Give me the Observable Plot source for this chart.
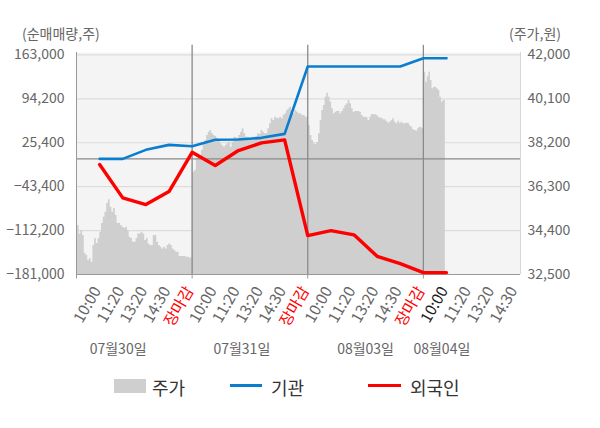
<!DOCTYPE html>
<html><head><meta charset="utf-8">
<script src="https://cdn.jsdelivr.net/npm/d3@7"></script>
<script src="https://cdn.jsdelivr.net/npm/@observablehq/plot@0.6"></script>
<style>
body{margin:0;background:#fff;font-family:"Noto Sans CJK KR","Noto Sans",sans-serif;}
#wrap{position:relative;width:600px;height:365px;}
.ttl{position:absolute;top:23px;font-size:14px;color:#666;line-height:20px;}
#legend{position:relative;width:600px;height:63px;font-size:18px;color:#333;}
#legend .it{position:absolute;top:10px;line-height:24px;}
#legend .sw{position:absolute;}
</style></head><body>
<div id="wrap"><div id="chart"></div>
<div class="ttl" style="left:22px">(순매매량,주)</div>
<div class="ttl" style="left:509px">(주가,원)</div>
</div>
<div id="legend">
  <div class="sw" style="left:114px;top:14px;width:32px;height:14px;background:#cfcfcf"></div>
  <div class="it" style="left:152px">주가</div>
  <div class="sw" style="left:230px;top:19px;width:32px;height:3px;background:#0b7dcf"></div>
  <div class="it" style="left:271px">기관</div>
  <div class="sw" style="left:368px;top:19px;width:33px;height:3px;background:#ff0000"></div>
  <div class="it" style="left:410px">외국인</div>
</div>
<script>
// ---- data ----
const dates = ["07월30일", "07월31일", "08월03일", "08월04일"];
const timeLabels = ["10:00", "11:20", "13:20", "14:30", "장마감"];
const volTicks = [-181000, -112200, -43400, 25400, 94200, 163000];
const priceTicks = [32500, 34400, 36300, 38200, 40100, 42000];
// cumulative net buying at each time slot (10:00..장마감 per day)
const institution = [200, 200, 14300, 22100, 19900, 30000, 30400, 33100, 39300,
  144800, 144800, 144800, 144800, 144800, 157800, 157800];
const foreign = [-8800, -61000, -71500, -51100, 10500, -10300, 13200, 25200, 29900,
  -120000, -112200, -118900, -152500, -163900, -178000, -178000];
// intraday price traces
const price0730 = [34833, 34616, 34257, 34400, 34184, 33405, 33318, 33102, 33188, 33028, 33751, 34054, 33837, 34054, 34326, 34703, 34976, 35192, 35569, 35729, 35408, 35192, 35352, 35049, 34703, 34716, 34616, 34543, 34487, 34543, 34400, 34110, 34054, 33894, 33894, 34054, 34257, 34257, 34326, 34257, 33967, 34054, 33824, 33751, 33751, 34184, 34184, 33894, 33751, 33677, 33608, 33677, 33608, 33751, 33824, 33751, 33608, 33534, 33461, 33461, 33275, 33275, 33275, 33275, 33244, 33244, 33218, 33218];
const price0731 = [37287, 36910, 36997, 37516, 37572, 37572, 37862, 38165, 38295, 38512, 38654, 38728, 38585, 38512, 38468, 38369, 38295, 38152, 38079, 38005, 38079, 38152, 38222, 38005, 38222, 38438, 38425, 38382, 38512, 38654, 38802, 38585, 38438, 38438, 38369, 38369, 38438, 38438, 38438, 38585, 38555, 38728, 38654, 38585, 38585, 38802, 39018, 39234, 39161, 39304, 39260, 39234, 39304, 39234, 39377, 39451, 39594, 39667, 39736, 39594, 39451, 39594, 39520, 39451, 39451, 39377, 39377, 39304, 39304];
const price0803 = [39304, 38944, 38512, 38295, 38152, 38122, 38209, 38585, 39161, 39594, 39810, 40169, 40342, 40169, 39953, 39667, 39451, 39520, 39550, 39550, 39451, 39550, 39667, 39810, 39884, 40026, 39884, 39667, 39520, 39550, 39550, 39550, 39520, 39377, 39304, 39304, 39278, 39161, 39304, 39421, 39407, 39407, 39377, 39304, 39260, 39260, 39191, 39191, 39118, 39044, 39088, 39161, 39234, 39088, 39018, 39130, 39044, 39088, 39018, 39018, 39044, 39044, 38944, 38871, 38758, 38728, 38698, 38802, 38871, 38845, 38802];
const price0804 = [41035, 41251, 40818, 41060, 41251, 40892, 40533, 40602, 40602, 40533, 40459, 40169, 39953, 40026, 40026];

// ---- build tables ----
const vMin = -181000, vMax = 163000, pMin = 32500, pMax = 42000;
const toV = p => vMin + (p - pMin) / (pMax - pMin) * (vMax - vMin);
const toP = v => pMin + (v - vMin) / (vMax - vMin) * (pMax - pMin);
const priceData = [];
[price0730, price0731, price0803].forEach((arr, d) =>
  arr.forEach((p, i) => priceData.push({x: d * 5 + i / (arr.length - 1) * 5, v: toV(p)})));
price0804.forEach((p, i) => priceData.push({x: 15 + i / (price0804.length - 1) * 0.95, v: toV(p)}));
const flows = institution.map((v, i) => ({x: i + 1, inst: v, frgn: foreign[i]}));
const xLabels = [];
dates.forEach((dt, d) => timeLabels.forEach((t, i) => {
  const x = d * 5 + i + 1;
  if (x <= 19.2) xLabels.push({x, t, c: t === "장마감" ? "#ff0000" : (d === 3 && i === 0 ? "#222" : "#666")});
}));
const dateMarks = dates.map((dt, d) => ({x: d < 3 ? d * 5 + 2.5 - 0.35 * (2 - d) : 15.8, dt}));

const fmt = d3.format(",");
const chart = Plot.plot({
  width: 600, height: 365,
  marginLeft: 76, marginRight: 80, marginTop: 52, marginBottom: 91,
  style: {fontFamily: '"Noto Sans CJK KR","Noto Sans",sans-serif', background: "transparent"},
  x: {domain: [0, 19.2], axis: null},
  y: {domain: [vMin, vMax + 3800], axis: null},
  marks: [
    Plot.frame({fill: "#f4f4f4", stroke: null}),
    Plot.ruleY(volTicks, {stroke: "#dcdcdc", strokeWidth: 1.2}),
    Plot.areaY(priceData, {x: "x", y1: vMin, y2: "v", fill: "#cfcfcf", curve: "step"}),
    Plot.ruleY([0], {stroke: "#8a8a8a", strokeWidth: 1.2}),
    Plot.ruleX([5, 10, 15], {y1: vMin, y2: vMax + 15000, stroke: "#8a8a8a", strokeWidth: 1.3}),
    Plot.ruleX([0], {y1: vMin - 7000, y2: vMax + 3800, stroke: "#999"}),
    Plot.ruleX([5, 10, 15], {y1: vMin, y2: vMin - 7000, stroke: "#999"}),
    Plot.ruleX([19.2], {stroke: "#d6d6d6"}),
    Plot.ruleY([vMin], {stroke: "#999"}),
    Plot.line(flows, {x: "x", y: "inst", stroke: "#0b7dcf", strokeWidth: 2.6}),
    Plot.line(flows, {x: "x", y: "frgn", stroke: "#ff0000", strokeWidth: 3.4}),
    Plot.axisY(volTicks, {anchor: "left", tickSize: 0, tickPadding: 12, tickFormat: fmt, fontSize: 14, fill: "#666", label: null}),
    Plot.axisY(volTicks, {anchor: "right", tickSize: 0, tickPadding: 7, tickFormat: v => fmt(Math.round(toP(v))), fontSize: 14, fill: "#666", label: null}),
    Plot.text(xLabels, {x: "x", frameAnchor: "bottom", text: "t", fill: "c", rotate: -60, textAnchor: "end", dx: 2, dy: 16, fontSize: 15.5}),
    Plot.text(dateMarks, {x: "x", frameAnchor: "bottom", text: "dt", fill: "#666", dy: 79, fontSize: 14})
  ]
});
document.getElementById("chart").appendChild(chart);
</script>
</body></html>
